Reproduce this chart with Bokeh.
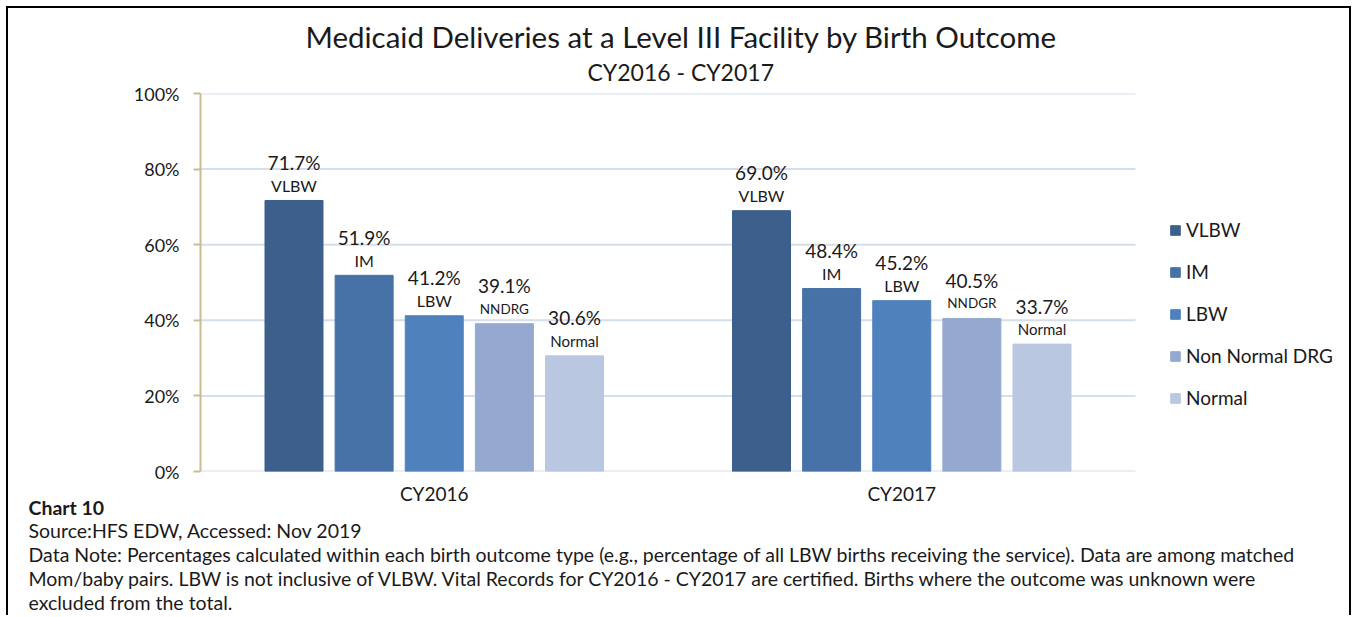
from bokeh.plotting import figure
from bokeh.models import (ColumnDataSource, Range1d, LabelSet, Title,
                          Legend, LegendItem, FixedTicker, PrintfTickFormatter)
from bokeh.transform import dodge
from bokeh.core.properties import field, value
from bokeh.embed import file_html
from bokeh.resources import INLINE

# ---------------- data ----------------
years = ["CY2016", "CY2017"]
outcomes = ["VLBW", "IM", "LBW", "Non Normal DRG", "Normal"]
vlbw = [71.7, 69.0]
im = [51.9, 48.4]
lbw = [41.2, 45.2]
nndrg = [39.1, 40.5]
normal = [30.6, 33.7]
bar_tags_2016 = ["VLBW", "IM", "LBW", "NNDRG", "Normal"]
bar_tags_2017 = ["VLBW", "IM", "LBW", "NNDGR", "Normal"]
y_ticks = [0, 20, 40, 60, 80, 100]

title_text = "Medicaid Deliveries at a Level III Facility by Birth Outcome"
subtitle_text = "CY2016 - CY2017"
chart_no = "Chart 10"
source_line = "Source:HFS EDW, Accessed: Nov 2019"
note_line1 = ("Data Note: Percentages calculated within each birth outcome type (e.g., percentage "
              "of all LBW births receiving the service). Data are among matched")
note_line2 = ("Mom/baby pairs. LBW is not inclusive of VLBW. Vital Records for CY2016 - CY2017 are "
              "certified. Births where the outcome was unknown were")
note_line3 = "excluded from the total."

# ---------------- styles / geometry ----------------
colors = ["#3C5F8C", "#4672A7", "#4F81BD", "#95A9D0", "#B9C7E1"]
offsets = [-0.3, -0.15, 0.0, 0.15, 0.3]
tag_sizes = ["16px", "16px", "16px", "13.5px", "15px"]
FONT = "Lato"
TXT = "#1a1a1a"
NOTE_SIZE = "19.5px"
NOTE_BOX = 25              # 2px + text-box height of a note line

W, H = 1345, 609           # element at page (6,6) with 2px css border -> canvas origin (8,8)
X0, Y0 = 8, 8
FRAME_L, FRAME_T, FRAME_B = 200, 93, 471
XAXIS_BAND = 34            # room taken by the year labels under the frame
PX_PER_CAT = 467.5         # width of one year group on screen
n = len(years)
xpos = [i + 0.5 for i in range(n)]
x_end = (X0 + W - FRAME_L) / PX_PER_CAT

p = figure(x_range=Range1d(0, x_end), y_range=Range1d(0, 100),
           width=W, height=H, output_backend="svg", toolbar_location=None,
           min_border_left=FRAME_L - X0, min_border_right=0,
           min_border_top=FRAME_T - Y0, min_border_bottom=(Y0 + H) - FRAME_B)
p.styles = {"margin-left": "6px", "margin-top": "6px",
            "border-left": "2px solid black", "border-top": "2px solid black",
            "border-right": "2px solid black"}
p.outline_line_color = None
p.grid.grid_line_color = None

# horizontal gridlines over the year groups only
grid_src = ColumnDataSource(dict(y=y_ticks))
p.segment(x0=0, x1=n, y0="y", y1="y", source=grid_src, line_color="#D5DEEC",
          line_width=2, level="underlay")

p.yaxis.ticker = FixedTicker(ticks=y_ticks)
p.yaxis.formatter = PrintfTickFormatter(format="%d%%")
p.yaxis.axis_line_color = "#C9BC92"
p.yaxis.axis_line_width = 2
p.yaxis.major_tick_line_color = "#C9BC92"
p.yaxis.major_tick_line_width = 2
p.yaxis.major_tick_out = 7
p.yaxis.major_tick_in = 0
p.yaxis.minor_tick_line_color = None
p.yaxis.minor_tick_out = 0
p.yaxis.major_label_standoff = 14
p.yaxis.major_label_text_font = FONT
p.yaxis.major_label_text_font_size = "18px"
p.yaxis.major_label_text_color = TXT

xa = p.xaxis[0]
xa.ticker = FixedTicker(ticks=xpos)
xa.major_label_overrides = {xp: yr for xp, yr in zip(xpos, years)}
xa.major_label_standoff = 10
xa.axis_line_color = None
xa.major_tick_line_color = None
xa.minor_tick_line_color = None
xa.major_tick_out = 0
xa.major_tick_in = 0
xa.minor_tick_out = 0
xa.minor_tick_in = 0
xa.major_label_text_font = FONT
xa.major_label_text_font_size = "19px"
xa.major_label_text_color = TXT

# ---------------- bars + labels ----------------
series = [vlbw, im, lbw, nndrg, normal]
items = []
for i, vals in enumerate(series):
    src = ColumnDataSource(dict(
        x=xpos, top=vals,
        pct=["%.1f%%" % v for v in vals],
        tag=[bar_tags_2016[i], bar_tags_2017[i]],
        tag_size=[tag_sizes[i]] * n,
    ))
    xd = dodge("x", offsets[i])
    r = p.vbar(x=xd, top="top", width=0.124, source=src,
               fill_color=colors[i], line_color=colors[i])
    items.append(LegendItem(label=outcomes[i], renderers=[r]))
    p.add_layout(LabelSet(x=xd, y="top", text="pct", source=src, y_offset=38,
                          text_align="center", text_baseline="middle",
                          text_font=value(FONT), text_font_size=value("19px"),
                          text_color=TXT))
    p.add_layout(LabelSet(x=xd, y="top", text="tag", source=src, y_offset=15,
                          text_align="center", text_baseline="middle",
                          text_font=value(FONT), text_font_size=field("tag_size"),
                          text_color=TXT))

# ---------------- series legend (inside the frame, right of the bars) ----------------
legend = Legend(items=items, location=(969, 62), orientation="vertical",
                border_line_color=None, background_fill_alpha=0, padding=0, margin=0,
                spacing=19, label_height=22, glyph_height=12, glyph_width=12,
                label_standoff=5, label_text_font=FONT, label_text_font_size="19px",
                label_text_color=TXT)
p.add_layout(legend)

# ---------------- titles (above panel; first added sits nearest the frame) ----------------
p.add_layout(Title(text=subtitle_text, align="left", offset=387, vertical_align="middle",
                   text_font=FONT, text_font_size="23px", text_font_style="normal",
                   text_color=TXT, standoff=14), "above")
p.add_layout(Title(text=title_text, align="left", offset=105, vertical_align="middle",
                   text_font=FONT, text_font_size="29.5px", text_font_style="normal",
                   text_color=TXT, standoff=-10), "above")

# ---------------- caption + note lines (below panel, after the year labels) ----------------
notes = [
    (chart_no, 506, True),
    (source_line, 529, False),
    (note_line1, 553, False),
    (note_line2, 577, False),
    (note_line3, 601, False),
]
edge = FRAME_B + XAXIS_BAND
for txt, py, bold in notes:
    band = max(0, 2 * ((py - 1) - edge))
    p.add_layout(Title(text=txt, align="left", offset=28 - FRAME_L, vertical_align="middle",
                       text_font=FONT, text_font_size=NOTE_SIZE,
                       text_font_style="bold" if bold else "normal",
                       text_color=TXT, standoff=band - NOTE_BOX), "below")
    edge += band

open("out.html", "w").write(file_html(p, INLINE))
